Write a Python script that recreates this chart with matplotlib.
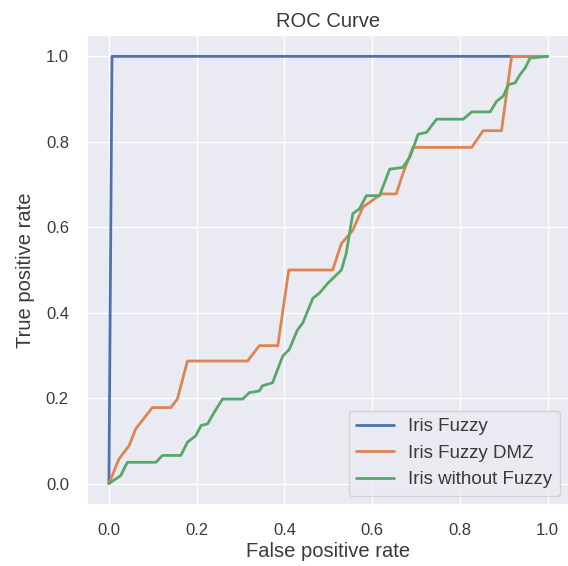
import matplotlib
matplotlib.use('Agg')
import matplotlib.pyplot as plt
import seaborn as sns

# values
fuzzy_fpr = [0.0, 0.007, 1.0]
fuzzy_tpr = [0.0, 1.0, 1.0]

dmz_fpr = [0.0, 0.023, 0.046, 0.061, 0.099, 0.141, 0.156, 0.179, 0.316, 0.343,
           0.385, 0.41, 0.51, 0.53, 0.556, 0.579, 0.621, 0.655, 0.670, 0.693,
           0.827, 0.853, 0.895, 0.918, 1.0]
dmz_tpr = [0.0, 0.058, 0.089, 0.128, 0.178, 0.178, 0.198, 0.287, 0.287, 0.323,
           0.323, 0.5, 0.5, 0.562, 0.593, 0.647, 0.678, 0.678, 0.725, 0.787,
           0.787, 0.826, 0.826, 1.0, 1.0]

nofuzzy_fpr = [0.0, 0.027, 0.042, 0.107, 0.122, 0.164, 0.179, 0.198, 0.21, 0.225,
               0.24, 0.259, 0.305, 0.32, 0.343, 0.35, 0.373, 0.396, 0.411, 0.43,
               0.442, 0.465, 0.48, 0.499, 0.53, 0.541, 0.556, 0.571, 0.587, 0.617,
               0.64, 0.670, 0.686, 0.705, 0.724, 0.747, 0.808, 0.827, 0.869, 0.884,
               0.899, 0.911, 0.926, 0.937, 0.949, 0.96, 1.0]
nofuzzy_tpr = [0.0, 0.019, 0.05, 0.05, 0.066, 0.066, 0.097, 0.112, 0.136, 0.14,
               0.167, 0.198, 0.198, 0.213, 0.217, 0.229, 0.236, 0.298, 0.314, 0.36,
               0.376, 0.434, 0.446, 0.469, 0.5, 0.539, 0.632, 0.643, 0.674, 0.674,
               0.736, 0.74, 0.764, 0.818, 0.822, 0.853, 0.853, 0.870, 0.870, 0.895,
               0.907, 0.934, 0.938, 0.957, 0.973, 0.996, 1.0]

labels = ['Iris Fuzzy', 'Iris Fuzzy DMZ', 'Iris without Fuzzy']

sns.set_theme(style='darkgrid')
plt.rcParams['font.family'] = ['Liberation Sans', 'DejaVu Sans']

fig = plt.figure(figsize=(5.68, 5.66), dpi=100)
ax = fig.add_axes([87 / 568, 1 - 505 / 566, 482.5 / 568, 470 / 566])

colors = sns.color_palette('deep')
ax.plot(fuzzy_fpr, fuzzy_tpr, color=colors[0], lw=2, label=labels[0])
ax.plot(dmz_fpr, dmz_tpr, color=colors[1], lw=2, label=labels[1])
ax.plot(nofuzzy_fpr, nofuzzy_tpr, color=colors[2], lw=2, label=labels[2])

ax.set_xticks([0.0, 0.2, 0.4, 0.6, 0.8, 1.0])
ax.set_yticks([0.0, 0.2, 0.4, 0.6, 0.8, 1.0])
ax.tick_params(labelsize=12, pad=7, labelcolor='#3a3a3a')
ax.set_xlabel('False positive rate', fontsize=14.5, color='#3a3a3a', labelpad=3)
ax.set_ylabel('True positive rate', fontsize=14.5, color='#3a3a3a', labelpad=8)
ax.set_title('ROC Curve', fontsize=14.5, color='#3a3a3a')
leg = ax.legend(loc='lower right', fontsize=13.5)
for t in leg.get_texts():
    t.set_color('#3a3a3a')

plt.savefig('out.png', dpi=100, facecolor='white')
plt.close()
